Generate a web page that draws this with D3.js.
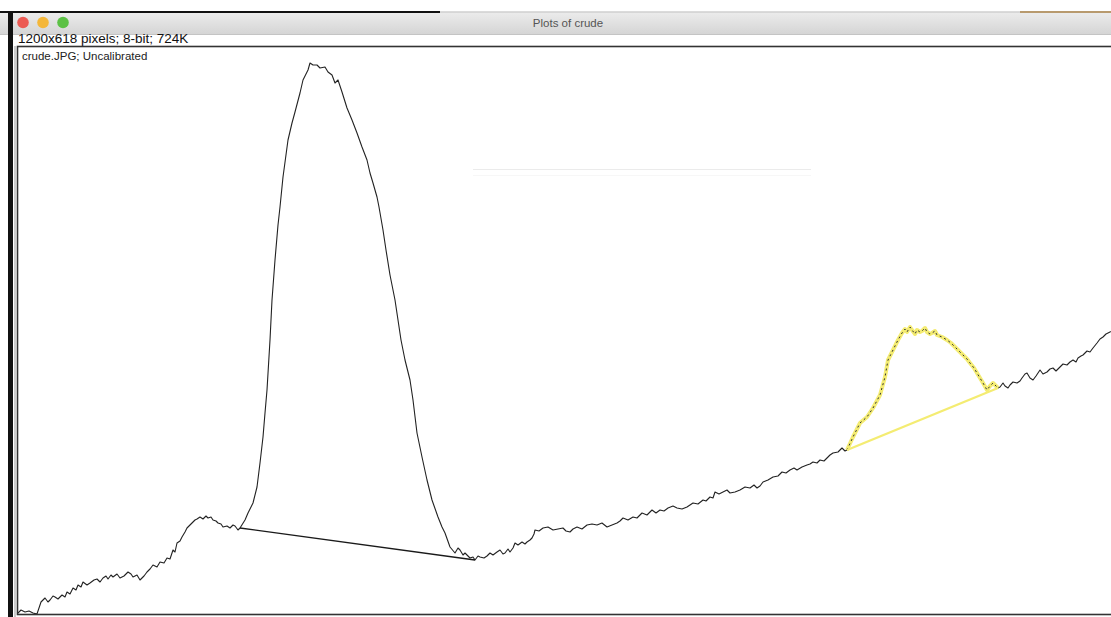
<!DOCTYPE html>
<html><head><meta charset="utf-8">
<script src="https://cdn.jsdelivr.net/npm/d3@7"></script>
<style>
html,body{margin:0;padding:0;background:#fff;overflow:hidden}
svg{display:block}
text{font-family:"Liberation Sans","DejaVu Sans",Arial,sans-serif}
</style></head>
<body>
<svg id="c" width="1111" height="617"></svg>
<script>
// ---- data (profile of crude.JPG) ----
const distance = [0,3,7,11,15,19,23,27,30,32,35,37,40,44,47,49,52,55,58,60,63,65,69,72,76,79,82,85,88,90,93,95,99,102,106,110,113,115,119,122,126,129,132,135,139,142,146,149,152,155,157,159,162,164,167,169,172,174,177,179,182,185,188,190,193,195,198,200,203,205,209,212,215,217,220,222,
227,230,235,239,242,245,247,249,252,254,257,260,262,265,270,274,277,282,285,290,292,295,299,302,307,310,314,317,320,324,329,334,339,344,349,352,355,359,361,365,368,372,377,380,383,387,392,395,399,404,409,414,420,424,427,432,
437,440,442,445,447,450,452,455,457,460,462,466,469,472,475,479,482,485,487,490,492,495,497,500,504,507,509,512,514,516,517,521,525,530,535,540,545,548,552,555,559,564,569,574,579,584,589,594,599,602,605,610,615,619,624,629,634,638,642,646,650,655,659,664,669,672,675,680,685,688,692,695,697,701,705,709,712,717,722,727,732,736,739,742,745,750,755,760,764,768,772,776,779,784,789,792,795,799,802,806,809,812,815,820,824,827,829,
835,842,849,855,862,867,870,875,880,884,887,889,892,894,897,899,902,904,907,909,912,914,917,919,924,929,933,937,941,945,949,952,956,959,962,965,969,972,975,980,
982,985,987,990,992,995,999,1002,1004,1007,1009,1012,1015,1018,1022,1025,1029,1032,1035,1038,1042,1045,1049,1052,1055,1058,1060,1063,1065,1069,1072,1075,1079,1082,1085,1088,1092,1096];
const grayValue = [1,4,2,3,1,0,12,16,12,14,18,17,15,19,17,22,20,26,24,29,27,32,29,31,34,35,32,36,38,35,39,37,40,36,38,42,40,37,39,34,38,42,45,49,47,52,51,56,55,64,62,71,73,77,82,86,89,91,94,95,97,95,98,96,97,94,93,91,90,87,88,86,89,88,84,86,
94,101,111,127,151,177,201,224,274,314,354,389,407,437,474,491,502,521,534,544,551,549,549,546,547,542,539,531,534,522,506,494,481,467,454,441,431,417,407,384,364,339,314,294,274,254,234,214,181,157,134,114,97,87,81,67,
61,66,64,59,61,58,56,57,54,58,57,56,58,61,59,62,64,60,61,65,62,66,71,69,72,70,72,74,76,80,84,83,86,87,84,85,86,83,82,85,87,85,89,90,89,91,87,89,91,93,96,94,97,96,101,99,104,101,104,103,106,108,106,105,107,109,111,110,114,113,117,116,122,120,122,124,121,122,124,127,126,129,126,128,132,134,137,138,142,141,144,146,144,147,149,150,152,151,154,153,156,159,161,162,166,163,164,
177,191,197,206,219,237,254,264,274,281,285,282,287,284,280,284,282,283,286,282,280,281,283,279,277,274,271,267,263,259,255,251,246,241,236,231,224,228,231,226,
227,231,228,226,229,232,231,233,236,240,241,236,234,238,244,240,242,245,246,243,247,250,249,252,254,252,256,258,259,263,262,266,271,275,277,280,282,284];
// measured peaks: [start distance, end distance]
const peakRanges = [[222, 457], [829, 980]];
const peakColors = ["#1a1a1a", "#f4ec72"];
const windowTitle = "Plots of crude";
const infoLine = "1200x618 pixels; 8-bit; 724K";
const imageLabel = "crude.JPG; Uncalibrated";

const svg = d3.select("#c");
const W = 1111, H = 617;

// ---- window chrome ----
const defs = svg.append("defs");
const g1 = defs.append("linearGradient").attr("id","tb").attr("x1",0).attr("y1",0).attr("x2",0).attr("y2",1);
g1.append("stop").attr("offset","0%").attr("stop-color","#ececec");
g1.append("stop").attr("offset","100%").attr("stop-color","#d5d5d5");
svg.append("rect").attr("x",0).attr("y",12).attr("width",W).attr("height",22).attr("fill","url(#tb)");
svg.append("line").attr("x1",0).attr("x2",W).attr("y1",34.5).attr("y2",34.5).attr("stroke","#c4c4c4");
svg.append("line").attr("x1",0).attr("x2",440).attr("y1",12).attr("y2",12).attr("stroke","#111").attr("stroke-width",2);
svg.append("line").attr("x1",440).attr("x2",1020).attr("y1",12).attr("y2",12).attr("stroke","#cfcfcf").attr("stroke-width",1.5);
svg.append("line").attr("x1",1020).attr("x2",W).attr("y1",12).attr("y2",12).attr("stroke","#b89a6e").attr("stroke-width",2);
[["#ec5b54",23],["#f4b73a",43],["#5cc145",63]].forEach(([c,x])=>{
  svg.append("circle").attr("cx",x).attr("cy",22.5).attr("r",5.8).attr("fill",c);
});
svg.append("text").attr("x",568).attr("y",27).attr("text-anchor","middle")
  .attr("font-size",11.5).attr("fill","#555").text(windowTitle);
svg.append("text").attr("x",18).attr("y",43).attr("font-size",13.5).attr("fill","#111").text(infoLine);

// left dark window edge
svg.append("rect").attr("x",8).attr("y",12).attr("width",5).attr("height",H-12).attr("fill","#111");
svg.append("line").attr("x1",15).attr("x2",15).attr("y1",46).attr("y2",H).attr("stroke","#999");

// plot frame
svg.append("rect").attr("x",17.5).attr("y",46.5).attr("width",W).attr("height",568)
  .attr("fill","#fff").attr("stroke","#333").attr("stroke-width",1.6);
svg.append("text").attr("x",22).attr("y",60).attr("font-size",11.5).attr("fill","#222").text(imageLabel);

// faint artefacts
svg.append("line").attr("x1",473).attr("x2",811).attr("y1",169.5).attr("y2",169.5).attr("stroke","#ebebeb");
svg.append("line").attr("x1",473).attr("x2",811).attr("y1",175.5).attr("y2",175.5).attr("stroke","#f7f7f7");

// ---- scales ----
const x = d3.scaleLinear().domain([0,1093]).range([18,1111]);
const y = d3.scaleLinear().domain([0,560]).range([614,54]);
const pts = distance.map((d,i)=>({d, v: grayValue[i]}));
const line = d3.line().x(p=>x(p.d)).y(p=>y(p.v));

svg.append("clipPath").attr("id","pc").append("rect").attr("x",18).attr("y",47).attr("width",W-18).attr("height",567);
const plot = svg.append("g").attr("clip-path","url(#pc)");

plot.append("path").datum(pts).attr("d",line).attr("fill","none")
  .attr("stroke","#222").attr("stroke-width",1.1).attr("stroke-linejoin","round");

// peak baselines & highlight
peakRanges.forEach((r,i)=>{
  const a = pts.find(p=>p.d===r[0]), b = pts.find(p=>p.d===r[1]);
  if(i===1){
    const seg = pts.filter(p=>p.d>=r[0] && p.d<=r[1]);
    plot.append("path").datum(seg).attr("d",line).attr("fill","none")
      .attr("stroke",peakColors[i]).attr("stroke-width",4).attr("stroke-linejoin","round");
    plot.append("path").datum(seg).attr("d",line).attr("fill","none")
      .attr("stroke","#333").attr("stroke-width",1).attr("stroke-dasharray","2,3");
  }
  plot.append("line").attr("x1",x(a.d)).attr("y1",y(a.v)).attr("x2",x(b.d)).attr("y2",y(b.v))
    .attr("stroke",peakColors[i]).attr("stroke-width",i===1?2.4:1.3);
});
</script>
</body></html>
